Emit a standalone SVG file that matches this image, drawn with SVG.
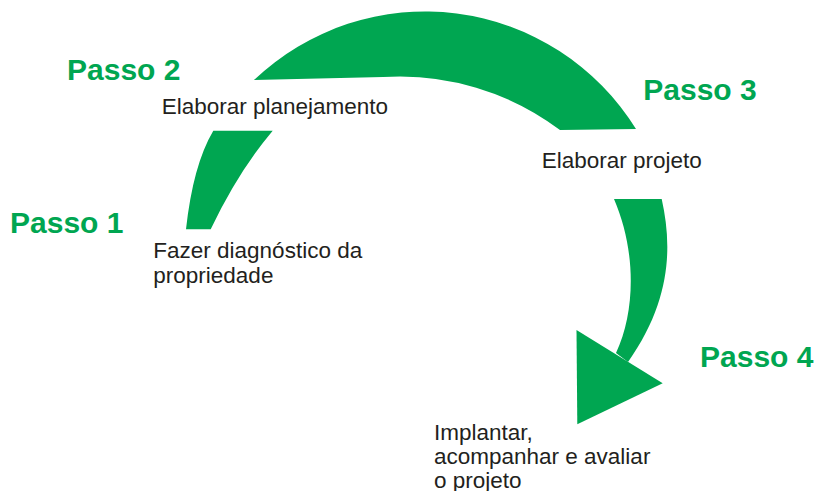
<svg xmlns="http://www.w3.org/2000/svg" width="819" height="491" viewBox="0 0 819 491">
<style>
.band{fill:#00A651;stroke:none}
.step{font-family:"Liberation Sans",Arial,sans-serif;font-weight:bold;font-size:30px;fill:#00A651}
.desc{font-family:"Liberation Sans",Arial,sans-serif;font-size:22.5px;fill:#231F20}
</style>
<rect width="819" height="491" fill="#ffffff"/>
<g id="connectors">
<path class="band" d="M186,229.3 Q193,165 213.3,130.7 L272.7,130.7 Q238,172 210.7,229.3 Z"/>
<path class="band" d="M254,80 A248,248 0 0 1 636,129 L560,130 A266.4,266.4 0 0 0 383,77 Z"/>
<path class="band" d="M614,199 L661.7,199 C672,245 672,300 628,362 L616,353 C636,310 636,250 614,199 Z"/>
<polygon class="band" points="576.5,330 662.7,383.3 577.3,424.3"/>
</g>
<g id="step1">
<text class="step" x="10" y="233.3">Passo 1</text>
<text class="desc" x="153.3" y="258">Fazer diagnóstico da</text>
<text class="desc" x="153.3" y="282.5">propriedade</text>
</g>
<g id="step2">
<text class="step" x="67" y="80">Passo 2</text>
<text class="desc" x="161.7" y="114">Elaborar planejamento</text>
</g>
<g id="step3">
<text class="step" x="643.3" y="100">Passo 3</text>
<text class="desc" x="541.7" y="168">Elaborar projeto</text>
</g>
<g id="step4">
<text class="step" x="700" y="367.3">Passo 4</text>
<text class="desc" x="434" y="439.5">Implantar,</text>
<text class="desc" x="434" y="463.5">acompanhar e avaliar</text>
<text class="desc" x="434" y="487.5">o projeto</text>
</g>
</svg>
